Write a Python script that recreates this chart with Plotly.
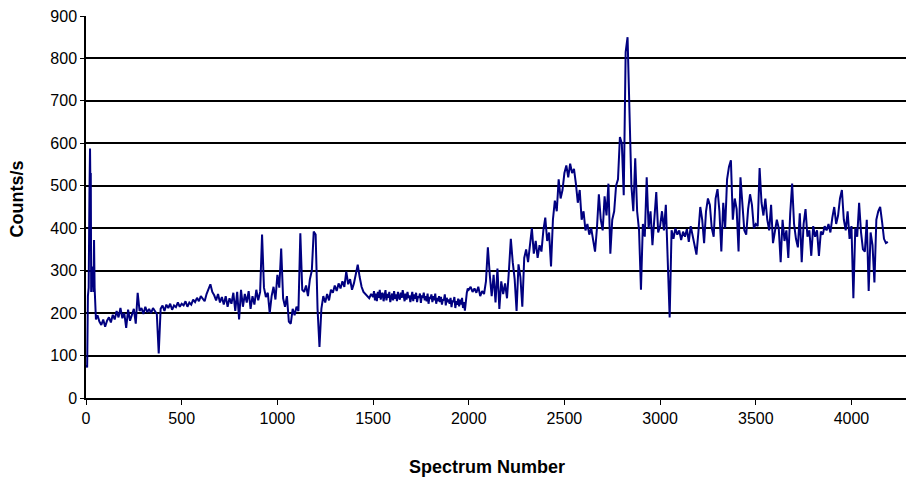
import plotly.graph_objects as go

# Opening spectra (irregular spacing around the initial spike)
start_spectrum = [2, 6, 10, 14, 18, 21, 23, 25, 27, 30, 33, 36, 39, 42, 45, 48, 52, 56]
start_counts = [78, 72, 240, 260, 480, 588, 500, 530, 250, 300, 280, 310, 250, 372, 260, 200, 185, 192]

# Count rates every 10 spectra from 60 to 1490
counts_0060 = [195, 180, 172, 185,
               168, 182, 190, 178, 196, 185, 205, 190, 212, 188,
               200, 165, 208, 182, 196, 210, 175, 248, 205, 212,
               198, 215, 202, 210, 200, 212, 205, 198, 105, 210,
               218, 205, 220, 212, 222, 208, 218, 214, 225, 215]
counts_0500 = [222, 218, 228, 215, 225, 220, 232, 226, 236, 228,
               240, 235, 228, 245, 255, 268, 250, 242, 230, 245,
               225, 238, 220, 240, 215, 235, 222, 248, 205, 250,
               185, 255, 215, 245, 225, 252, 210, 240, 220, 255,
               230, 250, 385, 260, 238, 248, 200, 240, 262, 232]
counts_1000 = [290, 260, 352, 235, 215, 240, 180, 175, 210, 195,
               215, 205, 388, 255, 250, 265, 240, 280, 300, 392,
               385, 210, 120, 210, 240, 225, 245, 230, 255, 248,
               265, 252, 270, 258, 275, 262, 298, 268, 280, 255,
               270, 290, 314, 285, 262, 250, 245, 240, 235, 245]

# Count rates every 5 spectra across the quiet stretch 1500-1995
counts_1500 = [238, 252, 230, 246, 228, 250, 236, 255, 232, 244,
               248, 228, 240, 254, 230, 245, 236, 250, 226, 242,
               246, 230, 252, 234, 244, 228, 250, 238, 232, 248,
               236, 254, 240, 228, 246, 232, 250, 236, 242, 226,
               238, 250, 228, 244, 234, 248, 226, 240, 236, 246,
               224, 242, 236, 248, 230, 240, 228, 246, 222, 238,
               234, 244, 226, 240, 230, 246, 222, 236, 228, 240,
               226, 238, 220, 232, 230, 244, 218, 236, 226, 232,
               222, 236, 214, 230, 226, 238, 212, 228, 220, 234,
               216, 232, 220, 236, 212, 226, 206, 240, 248, 258]

# Count rates every 10 spectra from 2000 to 4190
counts_2000 = [255, 262, 250, 258, 248, 262, 240, 252, 245, 275,
               355, 290, 240, 290, 225, 305, 210, 275, 245, 270,
               235, 300, 375, 320, 280, 205, 315, 285, 215, 330,
               350, 320, 365, 400, 340, 370, 330, 360, 345, 395,
               425, 370, 390, 310, 420, 465, 440, 515, 470, 490]
counts_2500 = [530, 548, 520, 552, 530, 540, 505, 460, 490, 420,
               440, 395, 410, 385, 400, 372, 345, 400, 480, 420,
               395, 475, 430, 505, 340, 420, 440, 500, 515, 615,
               600, 478, 815, 850, 700, 500, 440, 565, 440, 395,
               255, 410, 380, 520, 400, 440, 360, 420, 485, 390]
counts_3000 = [405, 440, 395, 455, 320, 190, 395, 375, 400, 385,
               395, 372, 392, 380, 398, 368, 405, 385, 360, 338,
               390, 450, 420, 365, 440, 470, 455, 400, 380, 470,
               492, 440, 345, 460, 400, 515, 545, 560, 420, 470,
               445, 345, 520, 455, 395, 385, 445, 480, 455, 400]
counts_3500 = [410, 405, 542, 460, 430, 470, 420, 395, 455, 365,
               390, 420, 400, 320, 420, 370, 395, 330, 435, 505,
               410, 375, 355, 435, 320, 410, 445, 380, 395, 335,
               405, 380, 395, 335, 392, 385, 405, 395, 410, 390,
               425, 450, 410, 430, 470, 490, 420, 395, 440, 375]
counts_4000 = [405, 235, 400, 380, 460, 390, 350, 345, 420, 252,
               390, 360, 272, 420, 440, 450, 415, 375, 365, 368]

spectrum = (start_spectrum + list(range(60, 1500, 10))
            + list(range(1500, 2000, 5)) + list(range(2000, 4200, 10)))
counts = (start_counts + counts_0060 + counts_0500 + counts_1000 + counts_1500
          + counts_2000 + counts_2500 + counts_3000 + counts_3500 + counts_4000)

x_ticks = [0, 500, 1000, 1500, 2000, 2500, 3000, 3500, 4000]
y_ticks = [0, 100, 200, 300, 400, 500, 600, 700, 800, 900]

FONT = "Liberation Sans, Arial, sans-serif"

fig = go.Figure(
    go.Scatter(
        x=spectrum,
        y=counts,
        mode="lines",
        line=dict(color="#000080", width=2),
        hoverinfo="skip",
    )
)

fig.update_layout(
    width=906,
    height=477,
    margin=dict(l=86, r=0, t=16, b=79),
    paper_bgcolor="white",
    plot_bgcolor="white",
    showlegend=False,
    font=dict(family=FONT, size=16, color="black"),
    annotations=[
        dict(text="<b>Counts/s</b>", xref="paper", yref="paper",
             x=-0.084, y=0.52, xanchor="center", yanchor="middle",
             textangle=-90, showarrow=False,
             font=dict(family=FONT, size=18, color="black")),
        dict(text="<b>Spectrum Number</b>", xref="paper", yref="paper",
             x=0.489, y=-0.18, xanchor="center", yanchor="middle",
             showarrow=False,
             font=dict(family=FONT, size=18, color="black")),
    ],
)

fig.update_xaxes(
    range=[0, 4285],
    tickvals=x_ticks,
    ticktext=[str(v) for v in x_ticks],
    ticks="outside", ticklen=5, tickcolor="black", tickwidth=1,
    showline=True, linecolor="black", linewidth=1.5,
    showgrid=False, zeroline=False,
    tickfont=dict(family=FONT, size=16, color="black"),
)

fig.update_yaxes(
    range=[0, 900],
    tickvals=y_ticks,
    ticktext=[str(v) for v in y_ticks],
    ticks="outside", ticklen=4, tickcolor="black", tickwidth=1,
    showline=True, linecolor="black", linewidth=1.5,
    showgrid=True, gridcolor="black", gridwidth=1.5,
    zeroline=False,
    tickfont=dict(family=FONT, size=16, color="black"),
)

fig.write_html("out.html")
